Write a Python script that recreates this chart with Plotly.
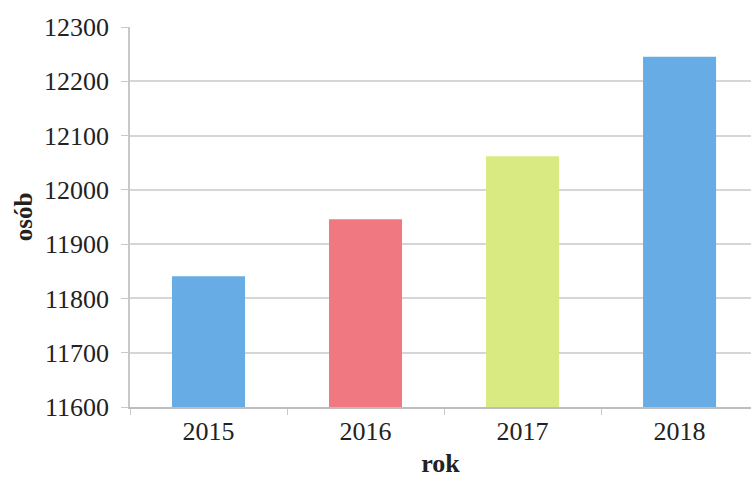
import plotly.graph_objects as go

years = ["2015", "2016", "2017", "2018"]
values = [11841, 11946, 12062, 12245]
colors = ["#68ACE5", "#F07880", "#DAEA82", "#68ACE5"]
y_ticks = [11600, 11700, 11800, 11900, 12000, 12100, 12200, 12300]

fig = go.Figure(go.Bar(
    x=years, y=values,
    marker=dict(color=colors, line=dict(width=0)),
    width=0.465,
))

font_family = "Liberation Serif"
fig.update_layout(
    width=751, height=484,
    margin=dict(l=130, r=0, t=27, b=77),
    paper_bgcolor="white", plot_bgcolor="white",
    showlegend=False,
    font=dict(family=font_family, size=25, color="#222222"),
)
fig.update_xaxes(
    type="category",
    range=[-0.5, 3.455],
    showline=True, linecolor="#bdbdbd", linewidth=1.5,
    ticks="outside", tickson="boundaries", ticklen=6, tickcolor="#c8c8c8",
    tickfont=dict(family=font_family, size=26, color="#222222"),
    title=dict(text="<b>rok</b>", font=dict(family=font_family, size=26, color="#222222"), standoff=9),
    showgrid=False,
)
fig.update_yaxes(
    range=[11600, 12300],
    tickvals=y_ticks,
    ticktext=[str(v) for v in y_ticks],
    showgrid=True, gridcolor="#d6d6d6", gridwidth=1.5,
    showline=True, linecolor="#c8c8c8", linewidth=1.5,
    ticks="outside", ticklen=7, tickcolor="#c8c8c8",
    ticklabelstandoff=7,
    tickfont=dict(family=font_family, size=26, color="#222222"),
    title=dict(text="<b>osób</b>", font=dict(family=font_family, size=25, color="#222222"), standoff=4),
    zeroline=False,
)

fig.write_html("out.html")
